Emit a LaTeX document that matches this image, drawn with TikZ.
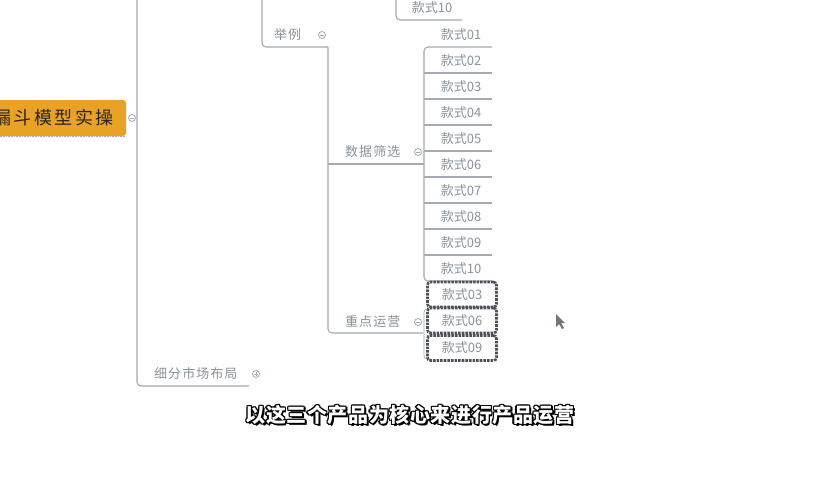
\documentclass[tikz,border=0pt]{standalone}
\usepackage{fontspec}
\newfontfamily\cjk{Noto Sans CJK SC}
\newfontfamily\cjksp{Noto Sans CJK SC}[LetterSpace=8]
\newfontfamily\cjkroot{Noto Sans CJK SC}[LetterSpace=14]
\newfontfamily\cjkb{Noto Sans CJK SC}[LetterSpace=3]
\definecolor{lnc}{HTML}{A3AAB3}
\definecolor{txc}{HTML}{8A929C}
\definecolor{orng}{HTML}{E9A126}
\definecolor{selc}{HTML}{4E5158}
\begin{document}
\begin{tikzpicture}[x=1pt,y=-1pt,
  conn/.style={draw=lnc, line width=1.1pt, rounded corners=4pt},
  itemtxt/.style={font=\cjk\fontsize{13}{15}\selectfont, text=txc, inner sep=0pt},
  lbltxt/.style={font=\cjksp\fontsize{13}{15}\selectfont, text=txc, inner sep=0pt},
  coll/.style={circle, draw=lnc, line width=0.8pt, minimum size=7pt, inner sep=0pt, fill=white},
  selbox/.style={draw=selc, line width=2.6pt, densely dotted, rounded corners=3pt, minimum width=69pt, minimum height=25pt, fill=white, inner sep=0pt, font=\cjk\fontsize{13}{15}\selectfont, text=txc},
  subt/.style={font=\cjkb\bfseries\fontsize{20}{22}\selectfont, inner sep=0pt}
]
\useasboundingbox (0,0) rectangle (820,480);
\fill[white] (0,0) rectangle (820,480);

% root node
\fill[orng, rounded corners=3pt] (-10,100) rectangle (126,136);
\draw[lnc, densely dotted, line width=0.6pt] (-10,136.5) -- (125,136.5);
\node[font=\cjkroot\fontsize{18}{20}\selectfont, text=black!85, anchor=east, inner sep=0pt] (root) at (114,118) {漏斗模型实操};
\node[coll] (rootc) at (132,118) {};
\draw[lnc, line width=0.8pt] (130,118) -- (134,118);

% main spine
\coordinate (s1top) at (137,0);
\coordinate (s1bot) at (137,386);
\coordinate (s1end) at (249,386);
\draw[conn] (s1top) -- (s1bot) -- (s1end);
\node[lbltxt, anchor=west] (xifen) at (154,374) {细分市场布局};
\node[coll] (xifenc) at (256,374) {};
\draw[lnc, line width=0.8pt] (254,374) -- (258,374) (256,372) -- (256,376);

% 举例 branch
\coordinate (j1) at (262,0);
\coordinate (j2) at (262,47);
\coordinate (j3) at (328,47);
\draw[conn] (j1) -- (j2) -- (j3);
\node[lbltxt, anchor=west] (juli) at (274,35) {举例};
\node[coll] (julic) at (322,35) {};
\draw[lnc, line width=0.8pt] (320,35) -- (324,35);

% top partial item
\coordinate (t1) at (396,0);
\coordinate (t2) at (396,20);
\coordinate (t3) at (462,20);
\draw[conn] (t1) -- (t2) -- (t3);
\node[itemtxt] (top10) at (432,8) {款式10};

% spine B
\coordinate (b2) at (328,333);
\coordinate (b3) at (423,333);
\draw[conn] (j3) -- (b2) -- (b3);
\coordinate (sx1) at (328,164);
\coordinate (sx2) at (424,164);
\draw[conn] (sx1) -- (sx2);
\node[lbltxt, anchor=west] (shaixuan) at (345,152) {数据筛选};
\node[coll] (shaixuanc) at (418,152) {};
\draw[lnc, line width=0.8pt] (416,152) -- (420,152);
\node[lbltxt, anchor=west] (zhongdian) at (345,322) {重点运营};
\node[coll] (zhongdianc) at (418,322) {};
\draw[lnc, line width=0.8pt] (416,322) -- (420,322);

% spine C with items
\coordinate (c0) at (492,47);
\coordinate (c1) at (424,47);
\coordinate (c2) at (424,281);
\coordinate (c3) at (492,281);
\draw[conn] (c0) -- (c1) -- (c2) -- (c3);
\foreach \i/\lab in {1/01,2/02,3/03,4/04,5/05,6/06,7/07,8/08,9/09,10/10}{
  \pgfmathsetmacro{\ty}{35+26*(\i-1)}
  \node[itemtxt] (k\i) at (461,\ty) {款式\lab};
}
\foreach \i in {2,...,9}{
  \pgfmathsetmacro{\uy}{47+26*(\i-1)}
  \coordinate (u\i a) at (424,\uy);
  \coordinate (u\i b) at (492,\uy);
  \draw[conn] (u\i a) -- (u\i b);
}

% spine D
\coordinate (d0) at (429,309);
\coordinate (d1) at (424,309);
\coordinate (d2) at (424,359);
\coordinate (d3) at (429,359);
\draw[draw=lnc, line width=0.8pt, rounded corners=3pt] (d0) -- (d1) -- (d2) -- (d3);

% selected boxes
\node[selbox] (s03) at (462,294.5) {款式03};
\node[selbox] (s06) at (462,320.5) {款式06};
\node[selbox] (s09) at (462,348) {款式09};

% cursor
\fill[txc!80!black] (556,314) -- (556,327) -- (559,324) -- (562,329) -- (564,328) -- (561,323) -- (565,323) -- cycle;

% subtitle with outline
\foreach \dx/\dy in {-1.4/0,1.4/0,0/-1.4,0/1.4,-1/-1,1/1,-1/1,1/-1,1.8/1.8}{
  \node[subt, text=black] at (410+\dx,415+\dy) {以这三个产品为核心来进行产品运营};
}
\node[subt, text=white] (subtitle) at (410,415) {以这三个产品为核心来进行产品运营};
\end{tikzpicture}
\end{document}
